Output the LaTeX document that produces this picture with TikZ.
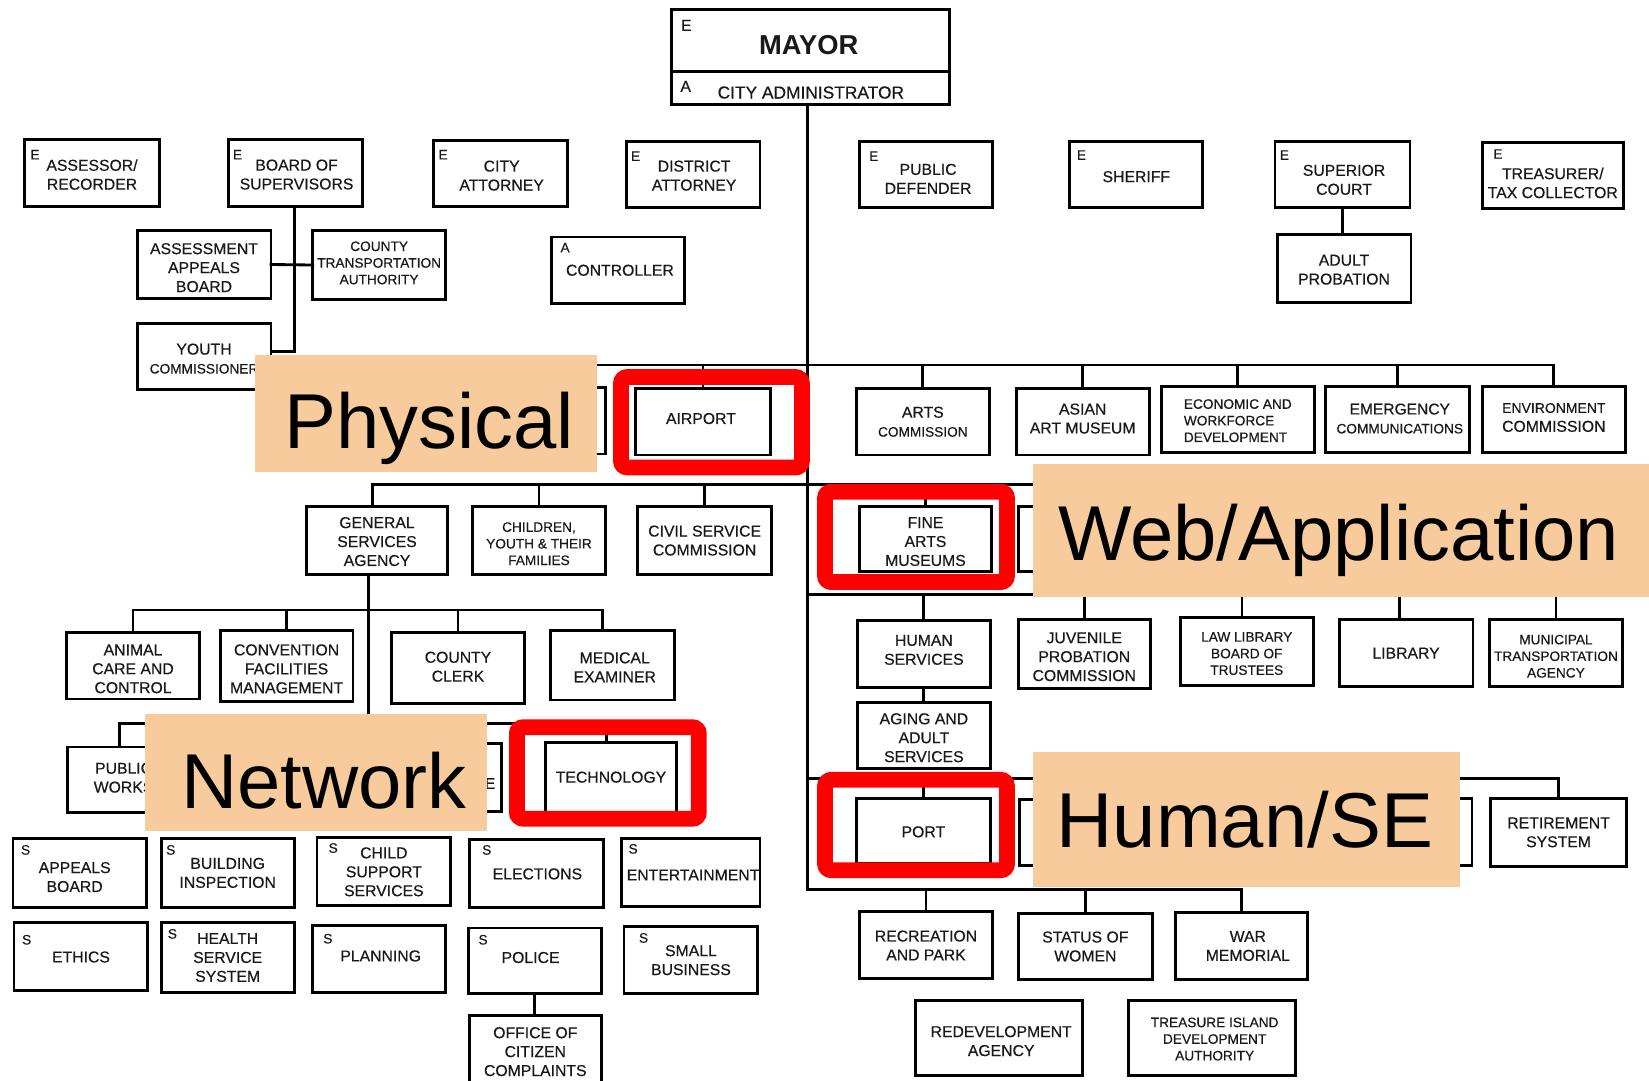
\documentclass[tikz,border=0pt]{standalone}
\usepackage{fontspec}
\setmainfont{Liberation Sans}
\newfontfamily\boxfont{Liberation Sans}[FakeBold=0.4]
\usetikzlibrary{calc}
\definecolor{peach}{RGB}{248,203,157}
\definecolor{ink}{RGB}{25,25,25}
\tikzset{
  obox/.style={draw=black, line width=2.7pt, inner sep=0pt, outer sep=0pt, fill=white},
  otxt/.style={inner sep=0pt, outer sep=0pt, align=center, text=ink, font=\boxfont\fontsize{15}{18}\selectfont},
  t13/.style={font=\boxfont\fontsize{13}{15.8}\selectfont},
  mk/.style={inner sep=0pt, outer sep=0pt, anchor=north west, text=ink, font=\boxfont\fontsize{13}{13}\selectfont},
  conn/.style={line width=2.7pt, draw=black, line cap=rect},
  redbox/.style={draw=red, line width=15pt, rounded corners=6pt, inner sep=0pt, outer sep=0pt},
  lab/.style={fill=peach, inner sep=0pt, outer sep=0pt},
  labtxt/.style={inner sep=0pt, outer sep=0pt, anchor=base, font=\fontsize{74}{80}\selectfont, text=black},
}
% #1 text opts, #2 name, #3 x1, #4 y1, #5 x2, #6 y2, #7 dx, #8 dy, #9 text
\newcommand\obx[9][]{%
  \node[obox,minimum width={#5pt-#3pt-2.7pt},minimum height={#6pt-#4pt-2.7pt}] (#2) at ({(#3+#5)/2},{(#4+#6)/2}) {};
  \node[otxt,#1] (#2-t) at ($(#2.center)+(#7,#8)$) {#9};}
\newcommand\rbx[5]{\node[redbox,minimum width={#4pt-#2pt-15pt},minimum height={#5pt-#3pt-15pt}] (#1) at ({(#2+#4)/2},{(#3+#5)/2}) {};}
\newcommand\lbx[5]{\node[lab,minimum width={#4pt-#2pt},minimum height={#5pt-#3pt}] (#1) at ({(#2+#4)/2},{(#3+#5)/2}) {};}

\begin{document}
\begin{tikzpicture}[x=1pt,y=-1pt]
\fill[white] (0,0) rectangle (1568,1027);
\useasboundingbox (0,0) rectangle (1568,1027);

% ---------- Mayor ----------
\node[obox, minimum width=264.3pt, minimum height=90.3pt] (mayor) at (770.5,54.5) {};
\coordinate (mdiv) at (0,68);
\draw[line width=2.7pt] (mayor.west |- mdiv) -- (mayor.east |- mdiv);
\node[otxt, font=\bfseries\fontsize{26}{26}\selectfont] (mayor-t) at (769,42.7) {MAYOR};
\node[otxt, font=\boxfont\fontsize{16.5}{18}\selectfont] (cityadm-t) at (771,88) {CITY ADMINISTRATOR};
\node[mk, font=\boxfont\fontsize{15}{15}\selectfont] (m-mayor) at (647.6,19) {E};
\node[mk, font=\boxfont\fontsize{15}{15}\selectfont] (m-cityadm) at (647,77) {A};

% ---------- Row 1 ----------
\obx{assessor}{22}{131}{153}{198}{0}{1.5}{ASSESSOR/\\RECORDER}
\obx{board}{216}{131}{346}{198}{1}{1.5}{BOARD OF\\SUPERVISORS}
\obx{cityatty}{411}{132}{541}{198}{1}{2}{CITY\\ATTORNEY}
\obx{da}{594}{133}{724}{199}{1}{1}{DISTRICT\\ATTORNEY}
\obx{pd}{816}{133}{945}{199}{2}{4}{PUBLIC\\DEFENDER}
\obx{sheriff}{1016}{133}{1145}{199}{0}{2}{SHERIFF}
\obx{supcourt}{1211}{133}{1342}{199}{1.5}{5}{SUPERIOR\\COURT}
\obx{treas}{1408}{134}{1545}{200}{0}{7}{TREASURER/\\TAX COLLECTOR}
% ---------- Row 2 ----------
\obx{aab}{129}{218}{259}{285}{0}{3}{ASSESSMENT\\APPEALS\\BOARD}
\obx[t13]{cta}{296}{218}{425}{286}{0}{-2}{COUNTY\\TRANSPORTATION\\AUTHORITY}
\obx{adultprob}{1213}{222}{1343}{289}{0}{1}{ADULT\\PROBATION}
\obx{controller}{523}{224}{652}{290}{2}{0}{CONTROLLER}
\obx{youth}{129}{306}{259}{372}{0}{2}{YOUTH\\{\fontsize{13}{16}\selectfont COMMISSIONER}}
% ---------- Row 3 ----------
\obx{hid1}{448}{367}{577}{433}{0}{0}{}
\obx{airport}{603}{368}{734}{434}{-2}{-3}{AIRPORT}
\obx{arts}{813}{368}{942}{434}{0}{0}{ARTS\\{\fontsize{13}{16}\selectfont COMMISSION}}
\obx{asian}{965}{368}{1094}{434}{0}{-3}{ASIAN\\ART MUSEUM}
\obx[t13,align=left]{econ}{1103}{366}{1251}{432}{0}{1}{ECONOMIC AND\\WORKFORCE\\DEVELOPMENT}
\obx{emerg}{1259}{366}{1399}{432}{2}{-1}{{\fontsize{14.8}{17}\selectfont EMERGENCY}\\{\fontsize{13}{17}\selectfont COMMUNICATIONS}}
\obx{env}{1408}{366}{1547}{432}{0}{-2}{{\fontsize{13.3}{16}\selectfont ENVIRONMENT}\\COMMISSION}
% ---------- Row 4 ----------
\obx{gsa}{290}{480}{427}{548}{0}{1}{GENERAL\\SERVICES\\AGENCY}
\obx[t13]{cyf}{448}{480}{577}{548}{0}{3}{CHILDREN,\\YOUTH \& THEIR\\FAMILIES}
\obx{csc}{605}{480}{735}{548}{0}{0}{CIVIL SERVICE\\COMMISSION}
\obx{finearts}{816}{480}{944}{545}{0}{2.5}{FINE\\ARTS\\MUSEUMS}
\obx{hid2}{967}{480}{1096}{545}{0}{0}{}
% ---------- Row 5 ----------
\obx{animal}{62}{600}{191}{666}{0}{3}{ANIMAL\\CARE AND\\CONTROL}
\obx{convention}{208}{598}{337}{668}{0}{3}{CONVENTION\\FACILITIES\\MANAGEMENT}
\obx{clerk}{371}{600}{500}{670}{0}{-1}{COUNTY\\CLERK}
\obx{medical}{522}{598}{643}{667}{2}{2}{MEDICAL\\EXAMINER}
% ---------- Row 6 ----------
\obx{pubworks}{63}{709}{192}{774}{-10}{-2}{PUBLIC\\WORKS}
\obx{hid3}{349}{706}{478}{773}{0}{0}{}
\node[otxt,anchor=west] (hid3-e) at (461,745) {E};
\obx{tech}{517}{705}{645}{775}{0}{-1}{TECHNOLOGY}
% ---------- Row 7 ----------
\obx{appeals}{11}{796}{141}{864}{-5}{4}{APPEALS\\BOARD}
\obx{building}{152}{796}{281}{864}{0}{0}{BUILDING\\INSPECTION}
\obx{childsup}{300}{795}{430}{862}{0}{0.5}{CHILD\\SUPPORT\\SERVICES}
\obx{elections}{445}{797}{575}{864}{1}{0.5}{ELECTIONS}
\obx{entertain}{590}{796}{724}{863}{2}{2.5}{ENTERTAINMENT}
% ---------- Row 8 ----------
\obx{ethics}{12}{876}{142}{943}{0}{0.5}{ETHICS}
\obx{health}{152}{876}{281}{945}{0}{0}{HEALTH\\SERVICE\\SYSTEM}
\obx{planning}{296}{879}{425}{945}{1.5}{-3}{PLANNING}
\obx{police}{444}{881}{573}{946}{-4}{-3}{POLICE}
\obx{smallbiz}{592}{880}{722}{946}{0}{0}{SMALL\\BUSINESS}
\obx{occ}{445}{964}{573}{1036}{0}{0}{OFFICE OF\\CITIZEN\\COMPLAINTS}
% ---------- Right lower ----------
\obx{human}{814}{589}{943}{655}{0}{-4}{HUMAN\\SERVICES}
\obx{juvenile}{967}{588}{1095}{656}{0}{2.5}{JUVENILE\\PROBATION\\COMMISSION}
\obx[t13]{lawlib}{1121}{586}{1250}{653}{0}{2}{LAW LIBRARY\\BOARD OF\\TRUSTEES}
\obx{library}{1272}{588}{1402}{654}{0}{0}{LIBRARY}
\obx[t13]{muni}{1415}{588}{1544}{654}{0}{3}{MUNICIPAL\\TRANSPORTATION\\AGENCY}
\obx{aging}{814}{667}{943}{732}{0}{2}{AGING AND\\ADULT\\SERVICES}
\obx{port}{813}{758}{943}{822}{0}{1}{PORT}
\obx{hid4}{968}{759}{1097}{824}{0}{0}{}
\obx{hid6}{1272}{758}{1401}{824}{0}{0}{}
\obx{retire}{1416}{758}{1548}{825}{0}{0}{RETIREMENT\\SYSTEM}
\obx{recpark}{816}{865}{945}{932}{0}{0.5}{RECREATION\\AND PARK}
\obx{women}{967}{867}{1097}{933}{0}{0}{STATUS OF\\WOMEN}
\obx{war}{1116}{866}{1245}{933}{6}{0}{WAR\\MEMORIAL}
\obx{redev}{869}{950}{1031}{1024}{2}{3}{REDEVELOPMENT\\AGENCY}
\obx[t13]{tida}{1072}{950}{1233}{1024}{2.5}{1}{TREASURE ISLAND\\DEVELOPMENT\\AUTHORITY}

% ---------- Marks ----------
\node[mk] (m-assessor) at (28.9,142.6) {E};
\node[mk] (m-board) at (221.5,142.6) {E};
\node[mk] (m-cityatty) at (417,142.6) {E};
\node[mk] (m-da) at (600,144) {E};
\node[mk] (m-pd) at (826.5,144) {E};
\node[mk] (m-sheriff) at (1024,143) {E};
\node[mk] (m-supcourt) at (1217,143) {E};
\node[mk] (m-treas) at (1420,142) {E};
\node[mk] (m-controller) at (533,231) {A};
\node[mk] (m-appeals) at (20,803.6) {S};
\node[mk] (m-building) at (158,803.6) {S};
\node[mk] (m-childsup) at (312.5,801.8) {S};
\node[mk] (m-elections) at (458.5,803.6) {S};
\node[mk] (m-entertain) at (597.7,802.6) {S};
\node[mk] (m-ethics) at (21,889) {S};
\node[mk] (m-health) at (159.6,883.4) {S};
\node[mk] (m-planning) at (307.4,888) {S};
\node[mk] (m-police) at (455,889) {S};
\node[mk] (m-smallbiz) at (607.6,887.3) {S};

% ---------- Connectors ----------
\coordinate (B1) at (768,347);
\coordinate (B2) at (768,461);
\coordinate (B3R) at (768,565);
\coordinate (B3L) at (0,580);
\coordinate (B4) at (768,740);
\coordinate (B5) at (768,846);
\coordinate (B6) at (0,688);

\draw[conn] (mayor.south -| B1) -- (B5);
% bar 1
\draw[conn] (hid1.north |- B1) -- (env.north |- B1);
\foreach \n in {hid1,airport,arts,asian,econ,emerg,env}
  \draw[conn] (\n.north) -- (\n.north |- B1);
% bar 2
\coordinate (gsaN) at ([xshift=-4pt]gsa.north);
\draw[conn] (gsaN |- B2) -- (hid2.north |- B2);
\foreach \n in {gsaN,cyf.north,csc.north,finearts.north,hid2.north}
  \draw[conn] (\n) -- (\n |- B2);
% bar 3 left
\coordinate (medN) at ([xshift=-10pt]medical.north);
\draw[conn] (animal.north |- B3L) -- (medN |- B3L);
\foreach \n in {animal.north,convention.north,clerk.north,medN}
  \draw[conn] (\n) -- (\n |- B3L);
\coordinate (gsaS) at ([xshift=-8pt]gsa.south);
\draw[conn] (gsaS) -- (gsaS |- B6);
% bar 6
\coordinate (pwN) at ([xshift=-14pt]pubworks.north);
\coordinate (techN) at ([xshift=-4pt]tech.north);
\draw[conn] (pwN |- B6) -- (techN |- B6);
\foreach \n in {pwN,hid3.north,techN}
  \draw[conn] (\n) -- (\n |- B6);
% bar 3 right
\coordinate (lawN) at ([xshift=-4.5pt]lawlib.north);
\coordinate (libN) at ([xshift=-6pt]library.north);
\draw[conn] (B3R) -- (muni.north |- B3R);
\foreach \n in {human.north,juvenile.north,lawN,libN,muni.north}
  \draw[conn] (\n) -- (\n |- B3R);
\draw[conn] (human.south) -- (aging.north);
% bar 4
\draw[conn] (B4) -- (retire.north |- B4);
\foreach \n in {port,hid4,hid6,retire}
  \draw[conn] (\n.north) -- (\n.north |- B4);
% bar 5
\draw[conn] (B5) -- (war.north |- B5);
\foreach \n in {recpark,women,war}
  \draw[conn] (\n.north) -- (\n.north |- B5);
% board of supervisors
\coordinate (bj) at (280,334);
\draw[conn] (board.south -| bj) -- (bj) -- (bj -| youth.east);
\draw[conn] (aab.east) -- (cta.west);
% superior court
\draw[conn] (supcourt.south) -- (supcourt.south |- adultprob.north);
% police
\draw[conn] (police.south) -- (police.south |- occ.north);

% ---------- Red highlights ----------
\rbx{r-airport}{583}{351}{770}{452}
\rbx{r-fine}{777}{460}{965}{561}
\rbx{r-tech}{484}{684}{672}{786}
\rbx{r-port}{777}{734}{965}{835}

% ---------- Labels ----------
\lbx{l-phys}{242}{338}{568}{449}
\node[labtxt] (l-phys-t) at (408,426) {Physical};
\lbx{l-web}{982}{441}{1568}{568}
\node[labtxt] (l-web-t) at (1273,532.6) {Web/Application};
\lbx{l-net}{138}{679}{463}{790}
\node[labtxt] (l-net-t) at (308,769) {Network};
\lbx{l-hum}{982}{715}{1388}{843}
\node[labtxt] (l-hum-t) at (1183.7,805.5) {Human/SE};
\end{tikzpicture}
\end{document}
